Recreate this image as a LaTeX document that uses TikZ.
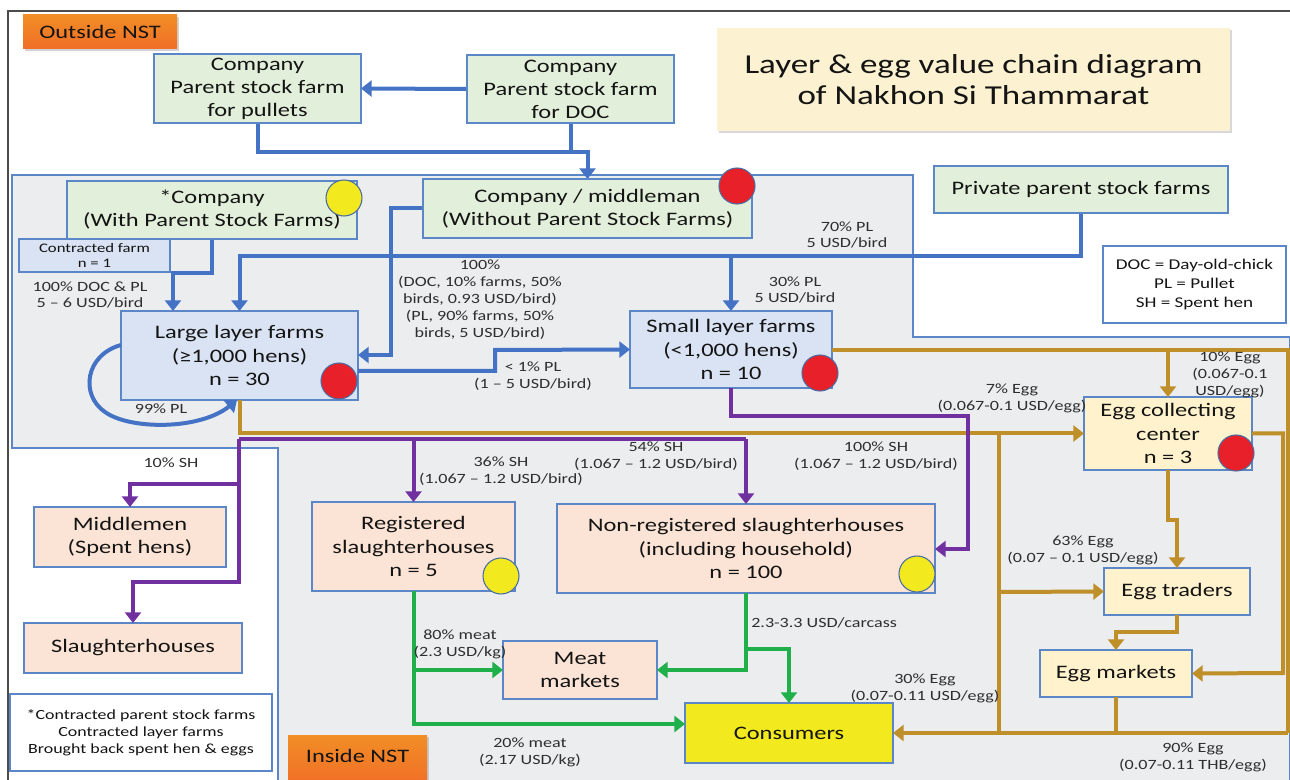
\documentclass[tikz,border=0pt]{standalone}
\usepackage{fontspec}
\setmainfont{Carlito}[FakeStretch=1.28]
\usetikzlibrary{arrows.meta,shadows,calc}
\definecolor{lblue}{HTML}{4472C4}
\definecolor{bord}{HTML}{5B87C9}
\definecolor{gold}{HTML}{BF8F2A}
\definecolor{purp}{HTML}{7030A0}
\definecolor{grn}{HTML}{1FAF4B}
\definecolor{fgreen}{HTML}{E2EFDA}
\definecolor{fblue}{HTML}{DAE3F3}
\definecolor{fpeach}{HTML}{FBE4D5}
\definecolor{fyel}{HTML}{FFF2CC}
\definecolor{consy}{HTML}{F2EA1E}
\definecolor{regbg}{HTML}{ECEDEF}
\definecolor{txt}{HTML}{141414}
\definecolor{lab}{HTML}{2E2E2E}
\definecolor{redc}{HTML}{E8202A}
\definecolor{ttl}{HTML}{FCF1D0}
\definecolor{orng}{HTML}{EF7A2C}
\newcommand\mkbox[7]{%
  \pgfmathsetmacro\mbcx{(#2+#4)/2}%
  \pgfmathsetmacro\mbcy{(#3+#5)/2}%
  \pgfmathsetmacro\mbw{(#4-#2)*0.75}%
  \pgfmathsetmacro\mbh{(#5-#3)*0.75}%
  \node[#6, minimum width=\mbw pt, minimum height=\mbh pt] (#1) at (\mbcx,\mbcy) {#7};%
}
\tikzset{
  bx/.style={draw=bord, line width=1.1pt, inner sep=0pt, outer sep=0pt, align=center, text=txt, font=\fontsize{14.3}{17.3}\selectfont},
  gbx/.style={bx, fill=fgreen},
  bbx/.style={bx, fill=fblue},
  pbx/.style={bx, fill=fpeach},
  ybx/.style={bx, fill=fyel},
  wbx/.style={bx, fill=white},
  obx/.style={inner sep=0pt, outer sep=0pt, align=center, text=txt, top color=orng!85!yellow, bottom color=orng!90!red, font=\fontsize{14.3}{16}\selectfont, drop shadow={opacity=0.35, shadow xshift=1.5pt, shadow yshift=-1.5pt}},
  lbl/.style={align=center, text=lab, inner sep=0pt, font=\fontsize{10.6}{12.7}\selectfont},
  tipa/.style={-{Triangle[width=12pt,length=8pt]}},
  bl/.style={draw=lblue, line width=3pt},
  gl/.style={draw=gold, line width=3pt},
  pl/.style={draw=purp, line width=3pt},
  grl/.style={draw=grn, line width=3pt},
  rdot/.style={circle, draw=bord!80!black, line width=0.8pt, fill=redc, minimum size=27pt, inner sep=0pt},
  ydot/.style={circle, draw=bord!80!black, line width=0.8pt, fill=consy, minimum size=27pt, inner sep=0pt},
}
\begin{document}
\begin{tikzpicture}[x=0.75pt, y=-0.75pt]
\useasboundingbox (0,0) rectangle (1290,780);
\fill[white] (0,0) rectangle (1290,780);
% frame
\draw[black!70, line width=0.8pt] (8,780) -- (8,11) -- (1290,11);
% inside region
\draw[bord, line width=0.8pt, fill=regbg] (12,175) -- (913,175) -- (913,337) -- (1290,337) -- (1290,782) -- (278,782) -- (278,448) -- (12,448) -- cycle;

% orange labels and title
\mkbox{outside}{23}{15}{177}{49}{obx}{Outside NST}
\mkbox{inside}{288}{735}{427}{786}{obx}{\raisebox{7pt}{Inside NST}}
\mkbox{title}{717}{28}{1230}{131}{bx, draw=none, fill=ttl, font=\fontsize{20.5}{23.5}\selectfont, drop shadow={opacity=0.3, shadow xshift=1.5pt, shadow yshift=-1.5pt}}{Layer \& egg value chain diagram\\of Nakhon Si Thammarat}

% boxes
\mkbox{pullets}{154}{54}{361}{123}{gbx}{Company\\Parent stock farm\\for pullets}
\mkbox{doc}{467}{55}{674}{123}{gbx}{Company\\Parent stock farm\\for DOC}
\mkbox{mid}{423}{179}{752}{238}{gbx}{Company / middleman\\(Without Parent Stock Farms)}
\mkbox{comp}{67}{181}{357}{239}{gbx}{*Company\\(With Parent Stock Farms)}
\mkbox{cfarm}{19}{239}{170}{272}{bbx, line width=0.9pt, font=\fontsize{9.8}{11.5}\selectfont}{Contracted farm\\n = 1}
\mkbox{priv}{934}{166}{1228}{213}{gbx}{Private parent stock farms}
\mkbox{legend}{1103}{246}{1286}{323}{wbx, font=\fontsize{11.2}{14.2}\selectfont}{DOC = Day-old-chick\\PL = Pullet\\SH = Spent hen}
\mkbox{large}{121}{311}{358}{400}{bbx}{Large layer farms\\(≥1,000 hens)\\n = 30}
\mkbox{small}{630}{311}{832}{388}{bbx}{Small layer farms\\(<1,000 hens)\\n = 10}
\mkbox{coll}{1084}{397}{1252}{470}{ybx}{Egg collecting\\center\\n = 3}
\mkbox{trad}{1104}{568}{1250}{615}{ybx}{Egg traders}
\mkbox{mkt}{1040}{650}{1192}{697}{ybx}{Egg markets}
\mkbox{midm}{34}{507}{226}{567}{pbx}{Middlemen\\(Spent hens)}
\mkbox{slh}{24}{623}{242}{673}{pbx}{Slaughterhouses}
\mkbox{foot}{10}{694}{272}{771}{wbx, font=\fontsize{10.5}{12.8}\selectfont}{*Contracted parent stock farms\\Contracted layer farms\\Brought back spent hen \& eggs}
\mkbox{reg}{312}{502}{515}{591}{pbx}{Registered\\slaughterhouses\\n = 5}
\mkbox{nreg}{557}{504}{935}{593}{pbx}{Non-registered slaughterhouses\\(including household)\\n = 100}
\mkbox{meat}{503}{641}{657}{699}{pbx}{Meat\\markets}
\mkbox{cons}{685}{703}{893}{763}{bx, fill=consy}{Consumers}

% ---------- connectors (blue) ----------
\draw[bl, tipa] (doc.west) -- (pullets.east);
\draw[bl, tipa] (pullets.south) |- (mid.north |- 0,152) -- (mid.north);
\draw[bl] (doc.south) -- (doc.south |- 0,152);
\draw[bl, tipa] (comp.south -| 212,0) |- (173,273) -- (large.north -| 173,0);
\draw[bl, tipa] (mid.west) -| (391,355) -- (large.east |- 0,355);
\draw[bl, tipa] (priv.south) |- (large.north |- 0,256) -- (large.north);
\draw[bl, tipa] (small.north |- 0,256) -- (small.north);
\draw[bl, tipa] (large.east |- 0,371) -| (495,350) -- (small.west);
\coordinate (loopmid) at (105,412);
\draw[bl, tipa] (large.west |- 0,345) .. controls (85,355) and (80,395) .. (loopmid) .. controls (130,430) and (200,430) .. (large.south -| 237,0);

% gold
\coordinate (gj1) at (999,434);
\coordinate (gj2) at (999,592);
\coordinate (gj3) at (999,733);
\coordinate (gr1) at (1288,350);
\coordinate (gr2) at (1288,733);
\draw[gl, tipa] (large.south) |- (coll.west);
\draw[gl] (gj1) -- (gj3);
\draw[gl, tipa] (gj2) -- (trad.west);
\draw[gl] (small.east |- 0,350) -- (gr1) -- (gr2);
\draw[gl, tipa] (coll.north |- 0,350) -- (coll.north);
\draw[gl, tipa] (gr2) -- (cons.east);
\draw[gl] (mkt.south) -- (mkt.south |- 0,733);
\draw[gl, tipa] (coll.east) -| (1283,673) -- (mkt.east);
\draw[gl, tipa] (coll.south) -- ++(0,50) -| (trad.north);
\draw[gl, tipa] (trad.south) -- ++(0,17) -| (mkt.north);

% purple
\coordinate (pj1) at (239,439);
\coordinate (pj2) at (239,484);
\draw[pl] (pj1) -- (nreg.north |- 0,439);
\draw[pl, tipa] (reg.north |- 0,439) -- (reg.north);
\draw[pl, tipa] (nreg.north |- 0,439) -- (nreg.north);
\draw[pl, tipa] (pj1) -- (239,582) -| (slh.north);
\draw[pl, tipa] (pj2) -| (midm.north);
\draw[pl, tipa] (small.south) |- (968,416) |- (nreg.east |- 0,549);

% green
\coordinate (gn1) at (413,670);
\coordinate (gn2) at (746,649);
\draw[grl, tipa] (reg.south) |- (cons.west |- 0,724);
\draw[grl, tipa] (gn1) -- (meat.west);
\draw[grl, tipa] (nreg.south) |- (meat.east);
\draw[grl, tipa] (gn2) -| (cons.north);

% redraw boxes whose borders the lines touch
\mkbox{pullets}{154}{54}{361}{123}{gbx}{Company\\Parent stock farm\\for pullets}
\mkbox{doc}{467}{55}{674}{123}{gbx}{Company\\Parent stock farm\\for DOC}
\mkbox{mid}{423}{179}{752}{238}{gbx}{Company / middleman\\(Without Parent Stock Farms)}
\mkbox{comp}{67}{181}{357}{239}{gbx}{*Company\\(With Parent Stock Farms)}
\mkbox{priv}{934}{166}{1228}{213}{gbx}{Private parent stock farms}

% dots
\node[rdot] (d1) at (737,186) {};
\node[ydot] (d2) at (344,198) {};
\node[rdot] (d3) at (339,381) {};
\node[rdot] (d4) at (820,373) {};
\node[rdot] (d5) at (1236,453) {};
\node[ydot] (d6) at (501,576) {};
\node[ydot] (d7) at (917,574) {};

% labels
\node[lbl] (l1) at (90,295) {100\% DOC \& PL\\5 – 6 USD/bird};
\node[lbl] (l2) at (480,300) {100\%\\(DOC, 10\% farms, 50\%\\birds, 0.93 USD/bird)\\(PL, 90\% farms, 50\%\\birds, 5 USD/bird)};
\node[lbl] (l3) at (847,235) {70\% PL\\5 USD/bird};
\node[lbl] (l4) at (795,290) {30\% PL\\5 USD/bird};
\node[lbl] (l5) at (533,376) {< 1\% PL\\(1 – 5 USD/bird)};
\node[lbl] (l6) at (161,409) {99\% PL};
\node[lbl] (l7) at (171,463) {10\% SH};
\node[lbl] (l8) at (501,471) {36\% SH\\(1.067 – 1.2 USD/bird)};
\node[lbl] (l9) at (656,456) {54\% SH\\(1.067 – 1.2 USD/bird)};
\node[lbl] (l10) at (876,456) {100\% SH\\(1.067 – 1.2 USD/bird)};
\node[lbl] (l11) at (1012,398) {7\% Egg\\(0.067-0.1 USD/egg)};
\node[lbl] (l12) at (1230,375) {10\% Egg\\(0.067-0.1\\USD/egg)};
\node[lbl] (l13) at (1083,550) {63\% Egg\\(0.07 – 0.1 USD/egg)};
\node[lbl] (l14) at (460,644) {80\% meat\\(2.3 USD/kg)};
\node[lbl, anchor=west] (l15) at (751,623) {2.3-3.3 USD/carcass};
\node[lbl] (l16) at (530,752) {20\% meat\\(2.17 USD/kg)};
\node[lbl] (l17) at (925,688) {30\% Egg\\(0.07-0.11 USD/egg)};
\node[lbl] (l18) at (1193,757) {90\% Egg\\(0.07-0.11 THB/egg)};
\end{tikzpicture}
\end{document}
